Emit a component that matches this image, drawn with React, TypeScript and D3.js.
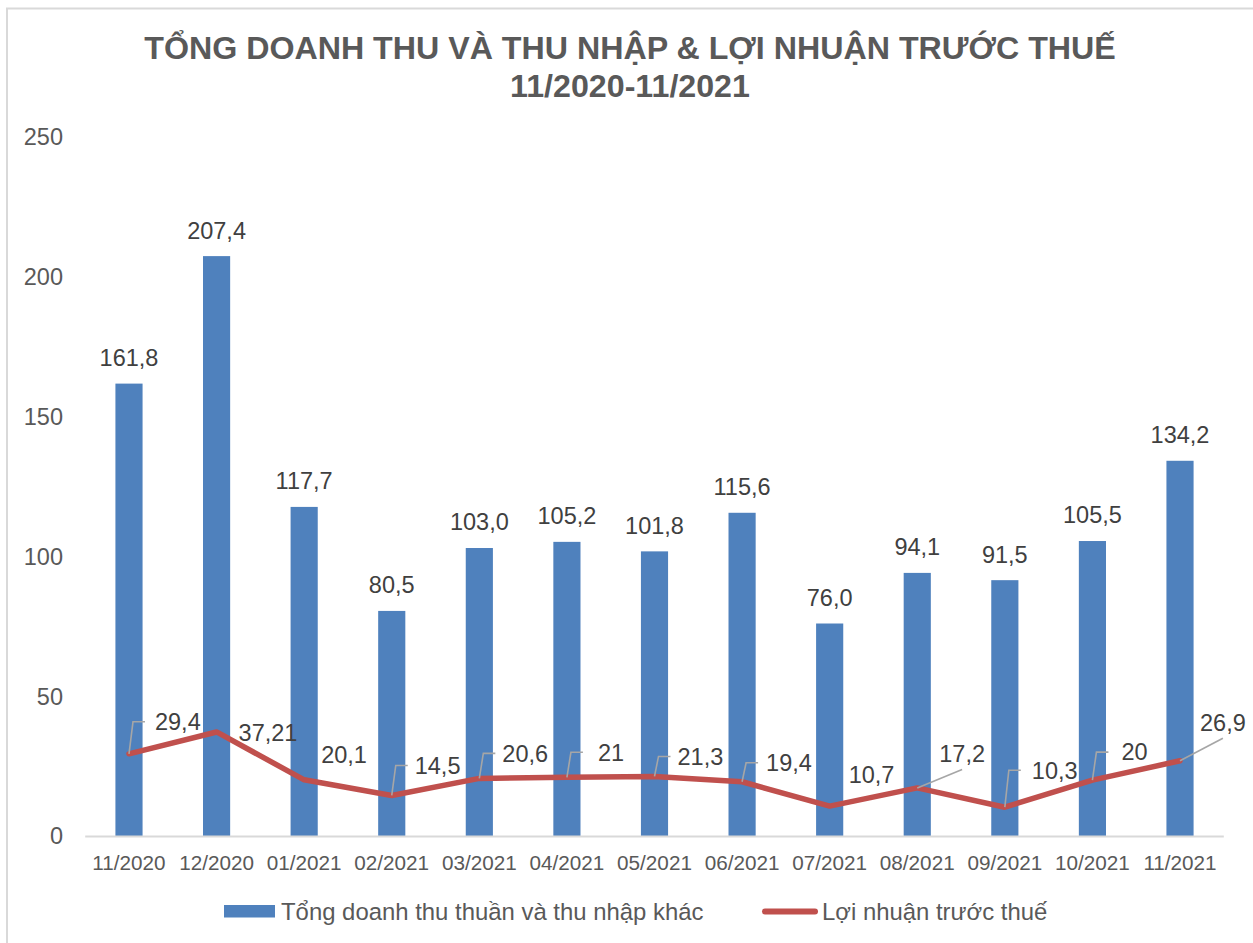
import React, { useEffect, useRef } from 'react';
import * as d3 from 'd3';

// Chart data (values in tỷ đồng)
const categories = ['11/2020', '12/2020', '01/2021', '02/2021', '03/2021', '04/2021', '05/2021', '06/2021', '07/2021', '08/2021', '09/2021', '10/2021', '11/2021'];
const revenue = [161.8, 207.4, 117.7, 80.5, 103.0, 105.2, 101.8, 115.6, 76.0, 94.1, 91.5, 105.5, 134.2];
const profit = [29.4, 37.21, 20.1, 14.5, 20.6, 21, 21.3, 19.4, 10.7, 17.2, 10.3, 20, 26.9];
const yTicks = [0, 50, 100, 150, 200, 250];

const titleLines = ['TỔNG DOANH THU VÀ THU NHẬP & LỢI NHUẬN TRƯỚC THUẾ', '11/2020-11/2021'];
const seriesNames = ['Tổng doanh thu thuần và thu nhập khác', 'Lợi nhuận trước thuế'];

// where Excel dragged the profit labels (offset from the point), and leader style
const profitLabelPlacement = [
  { dx: 26, dy: -32, leader: 'elbow' },
  { dx: 22, dy: 1, leader: 'none' },
  { dx: 17, dy: -25, leader: 'none' },
  { dx: 23, dy: -30, leader: 'elbow' },
  { dx: 23, dy: -25, leader: 'elbow' },
  { dx: 31, dy: -25, leader: 'elbow' },
  { dx: 23, dy: -20, leader: 'elbow' },
  { dx: 24, dy: -19, leader: 'elbow' },
  { dx: 19, dy: -31, leader: 'none' },
  { dx: 22, dy: -34, leader: 'diag' },
  { dx: 27, dy: -37, leader: 'elbow' },
  { dx: 29, dy: -28, leader: 'elbow' },
  { dx: 20, dy: -38, leader: 'diag' },
];

const FONT = '"Liberation Sans", Arial, sans-serif';
const BAR = '#4F81BD';
const LINE = '#C0504D';

const App: React.FC = () => {
  const ref = useRef<SVGSVGElement>(null);

  useEffect(() => {
    const svg = d3.select(ref.current);
    svg.selectAll('*').remove();

    const W = 1253;
    const H = 943;
    const plot = { left: 85.2, right: 1223.8, top: 137, bottom: 836 };

    svg.append('rect').attr('width', W).attr('height', H).attr('fill', '#fff');
    // chart area border (runs off the right/bottom of the picture)
    svg.append('rect')
      .attr('x', 7).attr('y', 8.5)
      .attr('width', 1400).attr('height', 1100)
      .attr('fill', 'none').attr('stroke', '#D9D9D9').attr('stroke-width', 2);

    // title
    svg.append('g').selectAll('text')
      .data(titleLines)
      .join('text')
      .attr('x', 630)
      .attr('y', (d, i) => 59 + i * 38)
      .attr('text-anchor', 'middle')
      .style('font-family', FONT)
      .style('font-weight', 'bold')
      .style('font-size', '32.2px')
      .style('fill', '#595959')
      .text(d => d);

    const x = d3.scaleBand<string>()
      .domain(categories)
      .range([plot.left, plot.right])
      .padding(0);

    const y = d3.scaleLinear()
      .domain([0, 250])
      .range([plot.bottom, plot.top]);

    const cx = (i: number) => x(categories[i])! + x.bandwidth() / 2;
    const barW = x.bandwidth() * 0.31;

    // y tick labels
    svg.append('g').selectAll('text')
      .data(yTicks)
      .join('text')
      .attr('x', 63)
      .attr('y', d => y(d) + 8.4)
      .attr('text-anchor', 'end')
      .style('font-family', FONT)
      .style('font-size', '23.5px')
      .style('fill', '#595959')
      .text(d => d);

    // bars
    svg.append('g').selectAll('rect')
      .data(revenue)
      .join('rect')
      .attr('x', (d, i) => cx(i) - barW / 2)
      .attr('y', d => y(d))
      .attr('width', barW)
      .attr('height', d => plot.bottom - y(d))
      .attr('fill', BAR);

    // category axis line
    svg.append('line')
      .attr('x1', plot.left).attr('x2', plot.right)
      .attr('y1', plot.bottom + 0.5).attr('y2', plot.bottom + 0.5)
      .attr('stroke', '#D9D9D9').attr('stroke-width', 2);

    // x tick labels
    svg.append('g').selectAll('text')
      .data(categories)
      .join('text')
      .attr('x', (d, i) => cx(i))
      .attr('y', 869.5)
      .attr('text-anchor', 'middle')
      .style('font-family', FONT)
      .style('font-size', '20.7px')
      .style('fill', '#595959')
      .text(d => d);

    // bar value labels
    svg.append('g').selectAll('text')
      .data(revenue)
      .join('text')
      .attr('x', (d, i) => cx(i))
      .attr('y', d => y(d) - 17.6)
      .attr('text-anchor', 'middle')
      .style('font-family', FONT)
      .style('font-size', '23.5px')
      .style('fill', '#404040')
      .text(d => d.toFixed(1).replace('.', ','));

    // profit line
    const line = d3.line<number>()
      .x((d, i) => cx(i))
      .y(d => y(d));

    svg.append('path')
      .datum(profit)
      .attr('d', line)
      .attr('fill', 'none')
      .attr('stroke', LINE)
      .attr('stroke-width', 5.5)
      .attr('stroke-linejoin', 'round')
      .attr('stroke-linecap', 'round');

    // profit labels with leader lines
    const lbl = svg.append('g');
    profit.forEach((v, i) => {
      const p = profitLabelPlacement[i];
      const px = cx(i);
      const py = y(v);
      const left = px + p.dx;
      const cy = py + p.dy;
      const t = lbl.append('text')
        .attr('x', left)
        .attr('y', cy + 8.4)
        .style('font-family', FONT)
        .style('font-size', '23.5px')
        .style('fill', '#404040')
        .text(String(v).replace('.', ','));
      const w = (t.node() as SVGTextElement).getComputedTextLength();
      if (p.leader === 'elbow') {
        lbl.append('polyline')
          .attr('points', `${px},${py} ${px + 4},${cy} ${px + 16},${cy}`)
          .attr('fill', 'none')
          .attr('stroke', '#A6A6A6')
          .attr('stroke-width', 1.6);
      } else if (p.leader === 'diag') {
        lbl.append('line')
          .attr('x1', px).attr('y1', py)
          .attr('x2', left + w / 2).attr('y2', cy + 15.5)
          .attr('stroke', '#A6A6A6')
          .attr('stroke-width', 1.6);
      }
    });

    // legend
    const leg = svg.append('g');
    leg.append('rect')
      .attr('x', 224).attr('y', 905)
      .attr('width', 51).attr('height', 12.5)
      .attr('fill', BAR);
    leg.append('line')
      .attr('x1', 765).attr('x2', 815)
      .attr('y1', 911.5).attr('y2', 911.5)
      .attr('stroke', LINE).attr('stroke-width', 6)
      .attr('stroke-linecap', 'round');
    leg.selectAll('text')
      .data(seriesNames)
      .join('text')
      .attr('x', (d, i) => (i === 0 ? 281 : 822))
      .attr('y', 920)
      .style('font-family', FONT)
      .style('font-size', '23.9px')
      .style('fill', '#595959')
      .text(d => d);
  }, []);

  return (
    <svg
      ref={ref}
      width={1253}
      height={943}
      style={{ position: 'absolute', left: 0, top: 0, display: 'block' }}
    />
  );
};

export default App;
